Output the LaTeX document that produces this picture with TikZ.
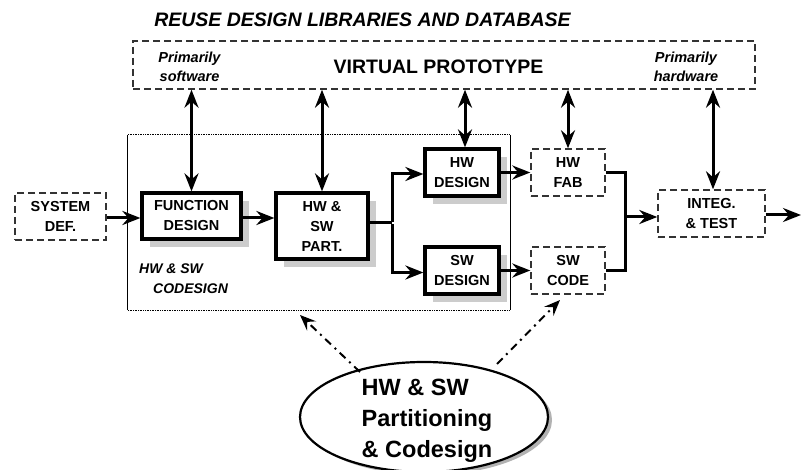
\documentclass[tikz,border=0pt]{standalone}
\usepackage{fontspec}
\setmainfont{Liberation Sans}
\usetikzlibrary{arrows.meta,shapes.geometric,shadows,calc}
\begin{document}
\begin{tikzpicture}[x=1pt,y=-1pt,
  arr/.style={line width=3pt, -{Stealth[length=18pt,width=14pt,inset=6pt]}},
  darr/.style={line width=3pt, {Stealth[length=18pt,width=14pt,inset=6pt]}-{Stealth[length=18pt,width=14pt,inset=6pt]}},
  wire/.style={line width=3pt},
  ddarr/.style={line width=2pt, dash pattern=on 8pt off 5pt on 2pt off 5pt, -{Stealth[length=16pt,width=13pt,inset=6pt]}},
  solidbox/.style={draw, line width=3.2pt, fill=white, inner sep=0pt, align=center,
    font=\fontsize{14.5}{20}\selectfont\bfseries,
    drop shadow={shadow xshift=8pt, shadow yshift=-8pt, fill=black!20, opacity=1}},
  dashbox/.style={draw=black!80, line width=1.4pt, dash pattern=on 7pt off 4pt, fill=white,
    inner sep=0pt, align=center, font=\fontsize{14.5}{20}\selectfont\bfseries},
  smallital/.style={font=\fontsize{14.5}{19}\selectfont\bfseries\itshape, align=center, inner sep=0pt},
]
\useasboundingbox (0,0) rectangle (802,470);
\clip (0,0) rectangle (802,470);

% title
\node[font=\fontsize{19.5}{22}\selectfont\bfseries\itshape, inner sep=0pt] (title) at (362.5,20) {REUSE DESIGN LIBRARIES AND DATABASE};

% virtual prototype
\node[dashbox, minimum width=622, minimum height=48] (VP) at (444,65) {};
\node[font=\fontsize{19.5}{22}\selectfont\bfseries, inner sep=0pt] (VPT) at (438.5,67) {VIRTUAL PROTOTYPE};
\node[smallital] (PS) at (189.5,67) {Primarily\\software};
\node[smallital] (PH) at (686,67) {Primarily\\hardware};

% codesign region
\node[minimum width=382, minimum height=175, inner sep=0pt] (CD) at (319,222.5) {};
\draw[line width=1pt] (CD.north west) -- (CD.south west);
\draw[line width=1pt] (CD.north east) -- (CD.south east);
\draw[line width=1.3pt, dash pattern=on 1pt off 0.7pt] (CD.north west) -- (CD.north east);
\draw[line width=1.3pt, dash pattern=on 1pt off 0.7pt] (CD.south west) -- (CD.south east);
\node[font=\fontsize{14}{16}\selectfont\bfseries\itshape, anchor=west, inner sep=0pt] (CL1) at (139,269) {HW \& SW};
\node[font=\fontsize{14}{16}\selectfont\bfseries\itshape, anchor=west, inner sep=0pt] (CL2) at (153,289) {CODESIGN};

% boxes
\node[dashbox, minimum width=91, minimum height=47] (SYS) at (60.5,216.5) {SYSTEM\\DEF.};
\node[solidbox, minimum width=99, minimum height=46] (FD) at (191.5,216) {FUNCTION\\DESIGN};
\node[solidbox, minimum width=92, minimum height=66] (PART) at (322,226) {HW \&\\SW\\PART.};
\node[solidbox, minimum width=74, minimum height=47] (HWD) at (462,172.5) {HW\\DESIGN};
\node[solidbox, minimum width=74, minimum height=47] (SWD) at (462,270.5) {SW\\DESIGN};
\node[dashbox, minimum width=74, minimum height=47] (HWF) at (568,172.5) {HW\\FAB};
\node[dashbox, minimum width=74, minimum height=47] (SWC) at (568,270.5) {SW\\CODE};
\node[dashbox, minimum width=107, minimum height=47] (INT) at (711.5,213.5) {INTEG.\\\& TEST};

% vertical double arrows
\draw[darr] (FD.north |- VP.south) -- (FD.north);
\draw[darr] (PART.north |- VP.south) -- (PART.north);
\draw[darr] ([xshift=3pt]HWD.north |- VP.south) -- ([xshift=3pt]HWD.north);
\draw[darr] (HWF.north |- VP.south) -- (HWF.north);
\draw[darr] ([xshift=1.5pt]INT.north |- VP.south) -- ([xshift=1.5pt]INT.north);

% flow
\draw[arr] ([yshift=-1.5pt]SYS.east) -- ([yshift=-1.5pt]SYS.east -| FD.west);
\draw[arr] ([yshift=-2pt]FD.east) -- ([yshift=-2pt]FD.east -| PART.west);
\coordinate (J) at (392,223);
\draw[wire] (J -| PART.east) -- (J);
\draw[arr] ([yshift=1.4pt]J) |- ([yshift=-1.5pt]HWD.west);
\draw[arr] ([yshift=-1.4pt]J) |- ([yshift=-2pt]SWD.west);
\draw[arr] (HWD.east) -- (HWF.west);
\draw[arr] (SWD.east) -- (SWC.west);
\coordinate (K) at (625,217);
\draw[wire] (HWF.east) -- (HWF.east -| K) -- (SWC.east -| K) -- (SWC.east);
\draw[arr] (K) -- (K -| INT.west);
\coordinate (OUT) at (801,215);
\draw[arr] (INT.east |- OUT) -- (OUT);

% ellipse
\node[ellipse, draw, line width=2.2pt, fill=white, minimum width=248, minimum height=110,
  drop shadow={shadow xshift=4pt, shadow yshift=-3pt, fill=black!30, opacity=1}] (ELL) at (424,417) {};
\node[font=\fontsize{23.5}{31}\selectfont\bfseries, align=left, inner sep=0pt] (ELT) at (427,421) {HW \& SW\\Partitioning\\\& Codesign};

% dash-dot arrows
\coordinate (S1) at (360,372);
\coordinate (S2) at (497,364);
\coordinate (T1) at (300,315);
\coordinate (T2) at (560,300);
\draw[ddarr] (S1) -- (T1);
\draw[ddarr] (S2) -- (T2);
\end{tikzpicture}
\end{document}
